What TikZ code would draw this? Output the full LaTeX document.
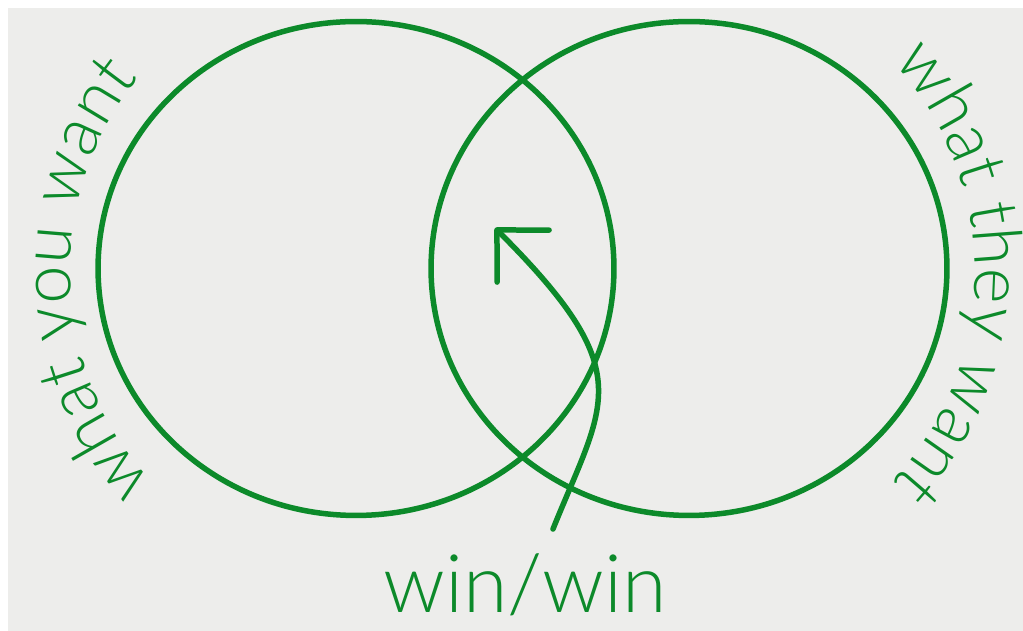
\documentclass[tikz,border=0pt]{standalone}
\usepackage{fontspec}
\setmainfont{Lato}[UprightFont={* Light}]
\usetikzlibrary{arrows.meta,positioning,shapes.geometric,decorations.text}
\definecolor{wingreen}{RGB}{12,138,42}
\definecolor{paper}{RGB}{237,237,235}
\tikzset{
  venn/.style={ellipse,draw=wingreen,line width=0.11cm,inner sep=0pt,
    minimum width=10.32cm,minimum height=9.88cm},
  winarrow/.style={draw=wingreen,line width=0.11cm,line cap=round,
    -{Straight Barb[length=0.74cm,width=1.47cm,round]}},
  wintext/.style={text=wingreen,font=\fontsize{46}{46}\selectfont,inner sep=0pt}
}
\begin{document}
\begin{tikzpicture}[x=0.02cm,y=0.02cm]
  \fill[white] (0,0) rectangle (1023,631);
  \fill[paper] (8,0) rectangle (1023,623);
  \useasboundingbox (0,0) rectangle (1023,631);
  % the two wants
  \node[venn] (you) at (356,362.5) {};
  \node[venn] (they) at (689,362.5) {};
  % labels round the circles
  \path[decorate,decoration={text along path,text align=center,
      text={|\fontsize{39}{39}\selectfont\color{wingreen}|what you want}}]
    (378,359) ++(226:308) arc[start angle=226,end angle=138,radius=308];
  \path[decorate,decoration={text along path,text align=center,
      text={|\fontsize{39}{39}\selectfont\color{wingreen}|what they want}}]
    (667,359) ++(46:308) arc[start angle=46,end angle=-46,radius=308];
  % the overlap
  \node[wintext,anchor=base] (winwin) at (525,18) {win/win};
  \coordinate (tail) at (553,102);
  \coordinate (tip) at (495,403);
  \draw[winarrow] (tail) .. controls (605,231) and (640,258) .. (tip);
\end{tikzpicture}
\end{document}
